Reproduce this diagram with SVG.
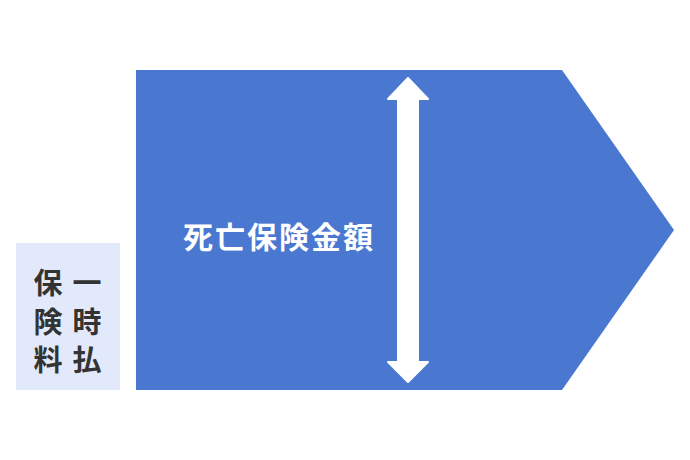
<svg xmlns="http://www.w3.org/2000/svg" width="690" height="460" viewBox="0 0 690 460">
<style>
.vt{font-family:"Noto Sans CJK JP",sans-serif;font-size:29px;font-weight:bold;fill:#333333;text-anchor:middle;dominant-baseline:central}
.tt{font-family:"Noto Sans CJK JP",sans-serif;font-size:30px;font-weight:bold;fill:#ffffff;dominant-baseline:central;letter-spacing:2px}
</style>
<rect width="690" height="460" fill="#ffffff"/>
<g id="premium">
<rect x="16" y="243" width="104" height="147" fill="#E2E9FB"/>
<text class="vt" x="87" y="281">一</text>
<text class="vt" x="87" y="320">時</text>
<text class="vt" x="87" y="358">払</text>
<text class="vt" x="48" y="281">保</text>
<text class="vt" x="48" y="320">険</text>
<text class="vt" x="48" y="358">料</text>
</g>
<g id="death-benefit">
<polygon points="136,70 562,70 674,230 562,390 136,390" fill="#4A78D1"/>
<text class="tt" x="183" y="235">死亡保険金額</text>
</g>
<g id="connectors">
<polygon points="408,78 428,99 418,99 418,362 428,362 408,382 388,362 398,362 398,99 388,99" fill="#ffffff" stroke="#ffffff" stroke-width="2" stroke-linejoin="round"/>
</g>
</svg>
